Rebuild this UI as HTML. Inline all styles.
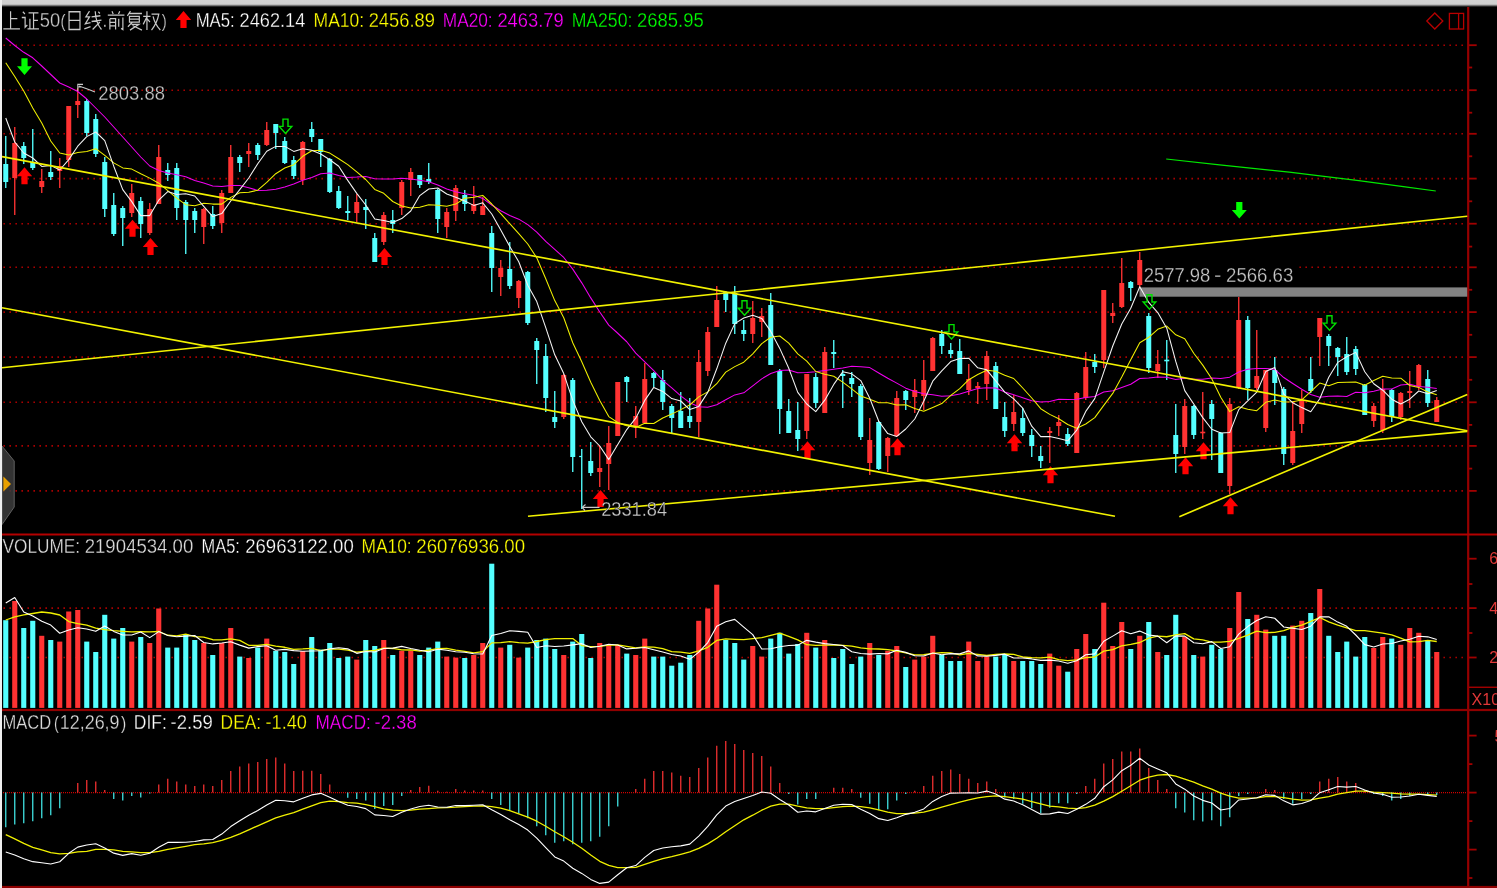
<!DOCTYPE html>
<html><head><meta charset="utf-8"><title>chart</title>
<style>
html,body{margin:0;padding:0;background:#000;overflow:hidden}
body{width:1497px;height:888px;position:relative;font-family:"Liberation Sans",sans-serif}
#top{position:absolute;left:0;top:0;width:1497px;height:7px;background:linear-gradient(#d2d2d2 0,#d0d0d0 4.2px,#6e6e6e 5.6px,#000 7px)}
#left{position:absolute;left:0;top:0;width:2px;height:888px;background:#efefef}
svg{position:absolute;left:0;top:0;will-change:transform}
</style></head><body>
<svg width="1497" height="888" viewBox="0 0 1497 888">
<g stroke="#a80000" stroke-width="1.6" stroke-dasharray="1.6 4.4" fill="none"><line x1="3.4" y1="45.2" x2="1464" y2="45.2"/><line x1="3.4" y1="90.2" x2="1464" y2="90.2"/><line x1="3.4" y1="133.8" x2="1464" y2="133.8"/><line x1="3.4" y1="178.6" x2="1464" y2="178.6"/><line x1="3.4" y1="223.7" x2="1464" y2="223.7"/><line x1="3.4" y1="267.3" x2="1464" y2="267.3"/><line x1="3.4" y1="312.1" x2="1464" y2="312.1"/><line x1="3.4" y1="357.1" x2="1464" y2="357.1"/><line x1="3.4" y1="402.3" x2="1464" y2="402.3"/><line x1="3.4" y1="445.9" x2="1464" y2="445.9"/><line x1="3.4" y1="490.9" x2="1464" y2="490.9"/><line x1="3.4" y1="608.1" x2="1464" y2="608.1"/><line x1="3.4" y1="657.5" x2="1464" y2="657.5"/></g>
<line x1="3" y1="792.6" x2="1466" y2="792.6" stroke="#d00000" stroke-width="1.1" stroke-dasharray="1 1"/>
<rect x="1467.1" y="7" width="2.2" height="881" fill="#960000"/>
<rect x="2" y="533.5" width="1495" height="2" fill="#b40000"/>
<rect x="2" y="708.9" width="1495" height="2.2" fill="#900000"/>
<rect x="2" y="885.9" width="1495" height="2.1" fill="#8e0000"/>
<rect x="1469" y="686.6" width="28" height="1.3" fill="#b20000"/>
<g stroke="#a00000" stroke-width="1.8"><line x1="1469" y1="45.2" x2="1476.7" y2="45.2"/><line x1="1469" y1="90.2" x2="1476.7" y2="90.2"/><line x1="1469" y1="133.8" x2="1476.7" y2="133.8"/><line x1="1469" y1="178.6" x2="1476.7" y2="178.6"/><line x1="1469" y1="223.7" x2="1476.7" y2="223.7"/><line x1="1469" y1="267.3" x2="1476.7" y2="267.3"/><line x1="1469" y1="312.1" x2="1476.7" y2="312.1"/><line x1="1469" y1="357.1" x2="1476.7" y2="357.1"/><line x1="1469" y1="402.3" x2="1476.7" y2="402.3"/><line x1="1469" y1="445.9" x2="1476.7" y2="445.9"/><line x1="1469" y1="490.9" x2="1476.7" y2="490.9"/><line x1="1469" y1="67.5" x2="1472.2" y2="67.5"/><line x1="1469" y1="112.7" x2="1472.2" y2="112.7"/><line x1="1469" y1="156.3" x2="1472.2" y2="156.3"/><line x1="1469" y1="201.3" x2="1472.2" y2="201.3"/><line x1="1469" y1="246.6" x2="1472.2" y2="246.6"/><line x1="1469" y1="289.8" x2="1472.2" y2="289.8"/><line x1="1469" y1="334.8" x2="1472.2" y2="334.8"/><line x1="1469" y1="379.8" x2="1472.2" y2="379.8"/><line x1="1469" y1="424.9" x2="1472.2" y2="424.9"/><line x1="1469" y1="468.6" x2="1472.2" y2="468.6"/><line x1="1469" y1="558.7" x2="1476.6" y2="558.7"/><line x1="1469" y1="608.1" x2="1476.6" y2="608.1"/><line x1="1469" y1="657.5" x2="1476.6" y2="657.5"/><line x1="1469" y1="584" x2="1472.4" y2="584"/><line x1="1469" y1="633" x2="1472.4" y2="633"/><line x1="1469" y1="735.6" x2="1476.6" y2="735.6"/><line x1="1469" y1="792.6" x2="1476.6" y2="792.6"/><line x1="1469" y1="849.6" x2="1476.6" y2="849.6"/><line x1="1469" y1="764.1" x2="1472.4" y2="764.1"/><line x1="1469" y1="821.1" x2="1472.4" y2="821.1"/><line x1="1469" y1="878" x2="1472.4" y2="878"/></g>
<rect x="1142" y="262" width="153" height="24" fill="#000"/>
<rect x="1139.5" y="287.4" width="327.7" height="9.3" fill="#828282"/>
<g stroke="#ff3232" stroke-width="1.35"><line x1="14.75" y1="127" x2="14.75" y2="215"/><line x1="41.75" y1="169" x2="41.75" y2="193"/><line x1="59.75" y1="158" x2="59.75" y2="188"/><line x1="68.75" y1="106" x2="68.75" y2="167"/><line x1="77.75" y1="88" x2="77.75" y2="118"/><line x1="131.75" y1="184" x2="131.75" y2="217"/><line x1="149.75" y1="203" x2="149.75" y2="235"/><line x1="158.75" y1="145" x2="158.75" y2="204"/><line x1="203.75" y1="208" x2="203.75" y2="244"/><line x1="221.75" y1="190" x2="221.75" y2="233"/><line x1="230.75" y1="145" x2="230.75" y2="193"/><line x1="248.75" y1="143" x2="248.75" y2="167"/><line x1="266.75" y1="122" x2="266.75" y2="146"/><line x1="302.75" y1="141" x2="302.75" y2="185"/><line x1="356.75" y1="194" x2="356.75" y2="222"/><line x1="383.75" y1="212" x2="383.75" y2="245"/><line x1="401.75" y1="180" x2="401.75" y2="215"/><line x1="410.75" y1="168" x2="410.75" y2="196"/><line x1="446.75" y1="208" x2="446.75" y2="238"/><line x1="455.75" y1="185" x2="455.75" y2="221"/><line x1="473.75" y1="186" x2="473.75" y2="214"/><line x1="482.75" y1="197" x2="482.75" y2="215"/><line x1="500.75" y1="260" x2="500.75" y2="296"/><line x1="518.75" y1="280" x2="518.75" y2="308"/><line x1="563.75" y1="374" x2="563.75" y2="419"/><line x1="599.75" y1="446" x2="599.75" y2="487"/><line x1="608.75" y1="426" x2="608.75" y2="490"/><line x1="617.75" y1="382" x2="617.75" y2="436"/><line x1="635.75" y1="406" x2="635.75" y2="438"/><line x1="644.75" y1="363" x2="644.75" y2="423"/><line x1="698.75" y1="350" x2="698.75" y2="437"/><line x1="707.75" y1="327" x2="707.75" y2="376"/><line x1="716.75" y1="286" x2="716.75" y2="327"/><line x1="752.75" y1="301" x2="752.75" y2="343"/><line x1="761.75" y1="308" x2="761.75" y2="337"/><line x1="806.75" y1="374" x2="806.75" y2="439"/><line x1="824.75" y1="347" x2="824.75" y2="413"/><line x1="869.75" y1="418" x2="869.75" y2="475"/><line x1="887.75" y1="437" x2="887.75" y2="472"/><line x1="896.75" y1="391" x2="896.75" y2="437"/><line x1="914.75" y1="379" x2="914.75" y2="413"/><line x1="923.75" y1="360" x2="923.75" y2="410"/><line x1="932.75" y1="337" x2="932.75" y2="371"/><line x1="968.75" y1="364" x2="968.75" y2="395"/><line x1="977.75" y1="382" x2="977.75" y2="404"/><line x1="986.75" y1="351" x2="986.75" y2="400"/><line x1="1013.75" y1="395" x2="1013.75" y2="431"/><line x1="1049.75" y1="427" x2="1049.75" y2="463"/><line x1="1058.75" y1="415" x2="1058.75" y2="436"/><line x1="1076.75" y1="392" x2="1076.75" y2="453"/><line x1="1085.75" y1="352" x2="1085.75" y2="400"/><line x1="1103.75" y1="290" x2="1103.75" y2="368"/><line x1="1112.75" y1="303" x2="1112.75" y2="323"/><line x1="1121.75" y1="258" x2="1121.75" y2="308"/><line x1="1139.75" y1="252" x2="1139.75" y2="287"/><line x1="1157.75" y1="350" x2="1157.75" y2="378"/><line x1="1184.75" y1="399" x2="1184.75" y2="454"/><line x1="1202.75" y1="392" x2="1202.75" y2="439"/><line x1="1229.75" y1="398" x2="1229.75" y2="494"/><line x1="1238.75" y1="297" x2="1238.75" y2="389"/><line x1="1256.75" y1="330" x2="1256.75" y2="390"/><line x1="1265.75" y1="370" x2="1265.75" y2="432"/><line x1="1292.75" y1="401" x2="1292.75" y2="465"/><line x1="1301.75" y1="390" x2="1301.75" y2="433"/><line x1="1319.75" y1="318" x2="1319.75" y2="366"/><line x1="1373.75" y1="403" x2="1373.75" y2="427"/><line x1="1382.75" y1="379" x2="1382.75" y2="433"/><line x1="1400.75" y1="392" x2="1400.75" y2="420"/><line x1="1409.75" y1="371" x2="1409.75" y2="408"/><line x1="1418.75" y1="364" x2="1418.75" y2="390"/><line x1="1436.75" y1="397" x2="1436.75" y2="422"/></g>
<g stroke="#54ffff" stroke-width="1.35"><line x1="5.75" y1="136" x2="5.75" y2="188"/><line x1="23.75" y1="142" x2="23.75" y2="164"/><line x1="32.75" y1="129" x2="32.75" y2="170"/><line x1="50.75" y1="151" x2="50.75" y2="180"/><line x1="86.75" y1="99" x2="86.75" y2="136"/><line x1="95.75" y1="114" x2="95.75" y2="157"/><line x1="104.75" y1="157" x2="104.75" y2="217"/><line x1="113.75" y1="193" x2="113.75" y2="236"/><line x1="122.75" y1="206" x2="122.75" y2="246"/><line x1="140.75" y1="197" x2="140.75" y2="238"/><line x1="167.75" y1="163" x2="167.75" y2="181"/><line x1="176.75" y1="163" x2="176.75" y2="220"/><line x1="185.75" y1="200" x2="185.75" y2="254"/><line x1="194.75" y1="208" x2="194.75" y2="233"/><line x1="212.75" y1="206" x2="212.75" y2="229"/><line x1="239.75" y1="155" x2="239.75" y2="172"/><line x1="257.75" y1="143" x2="257.75" y2="160"/><line x1="275.75" y1="124" x2="275.75" y2="149"/><line x1="284.75" y1="137" x2="284.75" y2="164"/><line x1="293.75" y1="156" x2="293.75" y2="179"/><line x1="311.75" y1="122" x2="311.75" y2="142"/><line x1="320.75" y1="139" x2="320.75" y2="167"/><line x1="329.75" y1="158" x2="329.75" y2="193"/><line x1="338.75" y1="186" x2="338.75" y2="209"/><line x1="347.75" y1="196" x2="347.75" y2="220"/><line x1="365.75" y1="199" x2="365.75" y2="229"/><line x1="374.75" y1="233" x2="374.75" y2="262"/><line x1="392.75" y1="210" x2="392.75" y2="233"/><line x1="419.75" y1="175" x2="419.75" y2="188"/><line x1="428.75" y1="163" x2="428.75" y2="184"/><line x1="437.75" y1="189" x2="437.75" y2="233"/><line x1="464.75" y1="190" x2="464.75" y2="211"/><line x1="491.75" y1="226" x2="491.75" y2="292"/><line x1="509.75" y1="242" x2="509.75" y2="289"/><line x1="527.75" y1="271" x2="527.75" y2="325"/><line x1="536.75" y1="338" x2="536.75" y2="384"/><line x1="545.75" y1="344" x2="545.75" y2="412"/><line x1="554.75" y1="391" x2="554.75" y2="428"/><line x1="572.75" y1="378" x2="572.75" y2="472"/><line x1="581.75" y1="449" x2="581.75" y2="509"/><line x1="590.75" y1="442" x2="590.75" y2="476"/><line x1="626.75" y1="376" x2="626.75" y2="402"/><line x1="653.75" y1="372" x2="653.75" y2="387"/><line x1="662.75" y1="370" x2="662.75" y2="410"/><line x1="671.75" y1="404" x2="671.75" y2="433"/><line x1="680.75" y1="392" x2="680.75" y2="428"/><line x1="689.75" y1="398" x2="689.75" y2="428"/><line x1="725.75" y1="291" x2="725.75" y2="312"/><line x1="734.75" y1="286" x2="734.75" y2="334"/><line x1="743.75" y1="320" x2="743.75" y2="341"/><line x1="770.75" y1="293" x2="770.75" y2="365"/><line x1="779.75" y1="369" x2="779.75" y2="434"/><line x1="788.75" y1="399" x2="788.75" y2="433"/><line x1="797.75" y1="402" x2="797.75" y2="451"/><line x1="815.75" y1="373" x2="815.75" y2="408"/><line x1="833.75" y1="340" x2="833.75" y2="368"/><line x1="842.75" y1="370" x2="842.75" y2="408"/><line x1="851.75" y1="372" x2="851.75" y2="397"/><line x1="860.75" y1="384" x2="860.75" y2="440"/><line x1="878.75" y1="421" x2="878.75" y2="470"/><line x1="905.75" y1="390" x2="905.75" y2="410"/><line x1="941.75" y1="330" x2="941.75" y2="354"/><line x1="950.75" y1="343" x2="950.75" y2="358"/><line x1="959.75" y1="339" x2="959.75" y2="374"/><line x1="995.75" y1="362" x2="995.75" y2="409"/><line x1="1004.75" y1="402" x2="1004.75" y2="437"/><line x1="1022.75" y1="408" x2="1022.75" y2="436"/><line x1="1031.75" y1="429" x2="1031.75" y2="457"/><line x1="1040.75" y1="446" x2="1040.75" y2="468"/><line x1="1067.75" y1="428" x2="1067.75" y2="446"/><line x1="1094.75" y1="354" x2="1094.75" y2="373"/><line x1="1130.75" y1="281" x2="1130.75" y2="301"/><line x1="1148.75" y1="313" x2="1148.75" y2="373"/><line x1="1166.75" y1="340" x2="1166.75" y2="380"/><line x1="1175.75" y1="404" x2="1175.75" y2="473"/><line x1="1193.75" y1="405" x2="1193.75" y2="439"/><line x1="1211.75" y1="400" x2="1211.75" y2="460"/><line x1="1220.75" y1="432" x2="1220.75" y2="473"/><line x1="1247.75" y1="316" x2="1247.75" y2="400"/><line x1="1274.75" y1="357" x2="1274.75" y2="405"/><line x1="1283.75" y1="387" x2="1283.75" y2="465"/><line x1="1310.75" y1="357" x2="1310.75" y2="393"/><line x1="1328.75" y1="334" x2="1328.75" y2="366"/><line x1="1337.75" y1="347" x2="1337.75" y2="376"/><line x1="1346.75" y1="337" x2="1346.75" y2="375"/><line x1="1355.75" y1="346" x2="1355.75" y2="375"/><line x1="1364.75" y1="384" x2="1364.75" y2="415"/><line x1="1391.75" y1="389" x2="1391.75" y2="422"/><line x1="1427.75" y1="370" x2="1427.75" y2="407"/></g>
<g fill="#ff3232"><rect x="12.25" y="143" width="5" height="35"/><rect x="39.25" y="181" width="5" height="6"/><rect x="57.25" y="166" width="5" height="5"/><rect x="66.25" y="106" width="5" height="54"/><rect x="75.25" y="101" width="5" height="4"/><rect x="129.25" y="193" width="5" height="20"/><rect x="147.25" y="209" width="5" height="24"/><rect x="156.25" y="157" width="5" height="47"/><rect x="201.25" y="209" width="5" height="18"/><rect x="219.25" y="193" width="5" height="30"/><rect x="228.25" y="157" width="5" height="36"/><rect x="246.25" y="151" width="5" height="3"/><rect x="264.25" y="130" width="5" height="15"/><rect x="300.25" y="142" width="5" height="38"/><rect x="354.25" y="202" width="5" height="11"/><rect x="381.25" y="215" width="5" height="27"/><rect x="399.25" y="182" width="5" height="26"/><rect x="408.25" y="172" width="5" height="8"/><rect x="444.25" y="212" width="5" height="15"/><rect x="453.25" y="188" width="5" height="23"/><rect x="471.25" y="204" width="5" height="7"/><rect x="480.25" y="206" width="5" height="9"/><rect x="498.25" y="268" width="5" height="9"/><rect x="516.25" y="281" width="5" height="17"/><rect x="561.25" y="375" width="5" height="42"/><rect x="597.25" y="468" width="5" height="4"/><rect x="606.25" y="443" width="5" height="21"/><rect x="615.25" y="382" width="5" height="54"/><rect x="633.25" y="416" width="5" height="11"/><rect x="642.25" y="379" width="5" height="44"/><rect x="696.25" y="362" width="5" height="60"/><rect x="705.25" y="332" width="5" height="39"/><rect x="714.25" y="300" width="5" height="27"/><rect x="750.25" y="318" width="5" height="16"/><rect x="759.25" y="316" width="5" height="6"/><rect x="804.25" y="374" width="5" height="57"/><rect x="822.25" y="352" width="5" height="61"/><rect x="867.25" y="440" width="5" height="23"/><rect x="885.25" y="438" width="5" height="18"/><rect x="894.25" y="398" width="5" height="38"/><rect x="912.25" y="390" width="5" height="7"/><rect x="921.25" y="380" width="5" height="16"/><rect x="930.25" y="338" width="5" height="33"/><rect x="966.25" y="379" width="5" height="11"/><rect x="975.25" y="386" width="5" height="2"/><rect x="984.25" y="356" width="5" height="28"/><rect x="1011.25" y="412" width="5" height="12"/><rect x="1047.25" y="431" width="5" height="2"/><rect x="1056.25" y="422" width="5" height="4"/><rect x="1074.25" y="393" width="5" height="60"/><rect x="1083.25" y="367" width="5" height="31"/><rect x="1101.25" y="290" width="5" height="70"/><rect x="1110.25" y="313" width="5" height="3"/><rect x="1119.25" y="283" width="5" height="24"/><rect x="1137.25" y="260" width="5" height="25"/><rect x="1155.25" y="364" width="5" height="7"/><rect x="1182.25" y="406" width="5" height="41"/><rect x="1200.25" y="431.7" width="5" height="1.6"/><rect x="1227.25" y="404" width="5" height="82"/><rect x="1236.25" y="320" width="5" height="68"/><rect x="1254.25" y="376" width="5" height="12"/><rect x="1263.25" y="370" width="5" height="58"/><rect x="1290.25" y="431" width="5" height="32"/><rect x="1299.25" y="400" width="5" height="24"/><rect x="1317.25" y="318" width="5" height="19"/><rect x="1371.25" y="406" width="5" height="15"/><rect x="1380.25" y="389" width="5" height="41"/><rect x="1398.25" y="393" width="5" height="24"/><rect x="1407.25" y="391" width="5" height="2"/><rect x="1416.25" y="365" width="5" height="22"/><rect x="1434.25" y="400" width="5" height="22"/></g>
<g fill="#54ffff"><rect x="3.25" y="164" width="5" height="18"/><rect x="21.25" y="146" width="5" height="12"/><rect x="30.25" y="162" width="5" height="6"/><rect x="48.25" y="172" width="5" height="5"/><rect x="84.25" y="101" width="5" height="32"/><rect x="93.25" y="119" width="5" height="35"/><rect x="102.25" y="162" width="5" height="47"/><rect x="111.25" y="205" width="5" height="29"/><rect x="120.25" y="208" width="5" height="10"/><rect x="138.25" y="201" width="5" height="23"/><rect x="165.25" y="170" width="5" height="5"/><rect x="174.25" y="168" width="5" height="40"/><rect x="183.25" y="202" width="5" height="18"/><rect x="192.25" y="211" width="5" height="9"/><rect x="210.25" y="214" width="5" height="12"/><rect x="237.25" y="157" width="5" height="6"/><rect x="255.25" y="145" width="5" height="10"/><rect x="273.25" y="124" width="5" height="9"/><rect x="282.25" y="141" width="5" height="22"/><rect x="291.25" y="160" width="5" height="16"/><rect x="309.25" y="129" width="5" height="8"/><rect x="318.25" y="139" width="5" height="13"/><rect x="327.25" y="159" width="5" height="33"/><rect x="336.25" y="191" width="5" height="17"/><rect x="345.25" y="211" width="5" height="2"/><rect x="363.25" y="207" width="5" height="3"/><rect x="372.25" y="238" width="5" height="24"/><rect x="390.25" y="220" width="5" height="4"/><rect x="417.25" y="175" width="5" height="10"/><rect x="426.25" y="179" width="5" height="3"/><rect x="435.25" y="190" width="5" height="29"/><rect x="462.25" y="195" width="5" height="9"/><rect x="489.25" y="233" width="5" height="35"/><rect x="507.25" y="269" width="5" height="17"/><rect x="525.25" y="272" width="5" height="51"/><rect x="534.25" y="341" width="5" height="9"/><rect x="543.25" y="356" width="5" height="42"/><rect x="552.25" y="417" width="5" height="5"/><rect x="570.25" y="380" width="5" height="77"/><rect x="579.15" y="455.9" width="2.6" height="1.2"/><rect x="588.25" y="461" width="5" height="12"/><rect x="624.25" y="377" width="5" height="5"/><rect x="651.25" y="373" width="5" height="5"/><rect x="660.25" y="380" width="5" height="22"/><rect x="669.25" y="406" width="5" height="12"/><rect x="678.25" y="411" width="5" height="17"/><rect x="687.25" y="416" width="5" height="6"/><rect x="723.25" y="292" width="5" height="8"/><rect x="732.25" y="293" width="5" height="31"/><rect x="741.25" y="330" width="5" height="4"/><rect x="768.25" y="305" width="5" height="60"/><rect x="777.25" y="371" width="5" height="38"/><rect x="786.25" y="411" width="5" height="22"/><rect x="795.25" y="430" width="5" height="9"/><rect x="813.25" y="377" width="5" height="26"/><rect x="831.25" y="352" width="5" height="2"/><rect x="840.25" y="374" width="5" height="2"/><rect x="849.25" y="378" width="5" height="6"/><rect x="858.25" y="386" width="5" height="51"/><rect x="876.25" y="422" width="5" height="47"/><rect x="903.25" y="391" width="5" height="9"/><rect x="939.25" y="334" width="5" height="12"/><rect x="948.25" y="350" width="5" height="4"/><rect x="957.25" y="351" width="5" height="23"/><rect x="993.25" y="366" width="5" height="43"/><rect x="1002.25" y="417" width="5" height="14"/><rect x="1020.25" y="418" width="5" height="15"/><rect x="1029.25" y="435" width="5" height="11"/><rect x="1038.25" y="456" width="5" height="5"/><rect x="1065.25" y="434" width="5" height="10"/><rect x="1092.25" y="362" width="5" height="5"/><rect x="1128.25" y="282" width="5" height="6"/><rect x="1146.25" y="316" width="5" height="52"/><rect x="1164.25" y="359.7" width="5" height="1.6"/><rect x="1173.25" y="435" width="5" height="19"/><rect x="1191.25" y="406" width="5" height="29"/><rect x="1209.25" y="404" width="5" height="15"/><rect x="1218.25" y="433" width="5" height="40"/><rect x="1245.25" y="320" width="5" height="68"/><rect x="1272.25" y="370" width="5" height="13"/><rect x="1281.25" y="389" width="5" height="65"/><rect x="1308.25" y="379" width="5" height="12"/><rect x="1326.25" y="336" width="5" height="10"/><rect x="1335.25" y="348" width="5" height="9"/><rect x="1344.25" y="354" width="5" height="18"/><rect x="1353.25" y="349" width="5" height="20"/><rect x="1362.25" y="385" width="5" height="30"/><rect x="1389.25" y="390" width="5" height="27"/><rect x="1425.25" y="379" width="5" height="24"/></g>
<polyline points="5.75,38 14.75,45.5 23.75,52.3 32.75,57.8 41.75,66 50.75,74.5 59.75,83 68.75,87 77.75,91.5 86.75,99 95.75,108 104.75,117 113.75,127 122.75,137 131.75,147 140.75,157 149.75,166 158.75,170.5 167.75,173 176.75,174.8 185.75,176.7 194.75,180.55 203.75,183.1 212.75,186 221.75,186.6 230.75,185.6 239.75,185.45 248.75,187.7 257.75,190.4 266.75,190.25 275.75,189.2 284.75,186.9 293.75,184 302.75,180.2 311.75,177.4 320.75,173.8 329.75,172.95 338.75,175.5 347.75,177.4 356.75,177.1 365.75,176.6 374.75,178.7 383.75,179 392.75,178.9 401.75,178.35 410.75,179.1 419.75,180.2 428.75,181.75 437.75,184.95 446.75,189.05 455.75,191.8 464.75,193.85 473.75,195.25 482.75,198.45 491.75,205 500.75,210.8 509.75,215.5 518.75,219.15 527.75,224.65 536.75,232.05 545.75,241.45 554.75,249.45 563.75,257.45 572.75,269.1 581.75,282.85 590.75,297.9 599.75,312.05 608.75,325.1 617.75,333.25 626.75,341.75 635.75,353.15 644.75,361.9 653.75,370.6 662.75,380.4 671.75,387.9 680.75,395.9 689.75,402.7 698.75,406.75 707.75,407.2 716.75,404.7 725.75,399.8 734.75,394.9 743.75,392.85 752.75,385.9 761.75,378.85 770.75,373.45 779.75,370.5 788.75,370 797.75,372.85 806.75,372.45 815.75,371.8 824.75,370.45 833.75,369.25 842.75,367.95 851.75,366.25 860.75,366.7 869.75,367.6 878.75,372.95 887.75,378.25 896.75,383.15 905.75,388.15 914.75,391.45 923.75,393.75 932.75,394.75 941.75,396.25 950.75,395.7 959.75,393.95 968.75,391.25 977.75,388.6 986.75,387.7 995.75,388 1004.75,391.95 1013.75,394.85 1022.75,397.7 1031.75,400.8 1040.75,402 1049.75,401.55 1058.75,399.2 1067.75,399.5 1076.75,399.25 1085.75,397.6 1094.75,396.45 1103.75,391.95 1112.75,390.7 1121.75,387.55 1130.75,384.25 1139.75,378.55 1148.75,378 1157.75,376.9 1166.75,377.15 1175.75,379.4 1184.75,378.15 1193.75,379.3 1202.75,379.25 1211.75,377.9 1220.75,378.5 1229.75,377.15 1238.75,372.05 1247.75,369.25 1256.75,368.4 1265.75,368.55 1274.75,369.35 1283.75,377.55 1292.75,383.45 1301.75,389.3 1310.75,394.45 1319.75,397.35 1328.75,396.25 1337.75,395.9 1346.75,396.45 1355.75,392.2 1364.75,392.65 1373.75,391.2 1382.75,389.05 1391.75,388.95 1400.75,384.95 1409.75,384.3 1418.75,386.55 1427.75,387.3 1436.75,388.5" fill="none" stroke="#f000f0" stroke-width="1.05" stroke-linejoin="round"/>
<polyline points="5.75,62.8 14.75,76.5 23.75,91 32.75,108 41.75,123 50.75,141 59.75,153 68.75,155 77.75,152.6 86.75,151.5 95.75,148.7 104.75,155.3 113.75,162.9 122.75,167.9 131.75,169.1 140.75,173.8 149.75,178.1 158.75,183.2 167.75,190.6 176.75,198.1 185.75,204.7 194.75,205.8 203.75,203.3 212.75,204.1 221.75,204.1 230.75,197.4 239.75,192.8 248.75,192.2 257.75,190.2 266.75,182.4 275.75,173.7 284.75,168 293.75,164.7 302.75,156.3 311.75,150.7 320.75,150.2 329.75,153.1 338.75,158.8 347.75,164.6 356.75,171.8 365.75,179.5 374.75,189.4 383.75,193.3 392.75,201.5 401.75,206 410.75,208 419.75,207.3 428.75,204.7 437.75,205.3 446.75,206.3 455.75,204.1 464.75,198.3 473.75,197.2 482.75,195.4 491.75,204 500.75,213.6 509.75,223.7 518.75,233.6 527.75,244 536.75,257.8 545.75,278.8 554.75,300.6 563.75,317.7 572.75,342.8 581.75,361.7 590.75,382.2 599.75,400.4 608.75,416.6 617.75,422.5 626.75,425.7 635.75,427.5 644.75,423.2 653.75,423.5 662.75,418 671.75,414.1 680.75,409.6 689.75,405 698.75,396.9 707.75,391.9 716.75,383.7 725.75,372.1 734.75,366.6 743.75,362.2 752.75,353.8 761.75,343.6 770.75,337.3 779.75,336 788.75,343.1 797.75,353.8 806.75,361.2 815.75,371.5 824.75,374.3 833.75,376.3 842.75,382.1 851.75,388.9 860.75,396.1 869.75,399.2 878.75,402.8 887.75,402.7 896.75,405.1 905.75,404.8 914.75,408.6 923.75,411.2 932.75,407.4 941.75,403.6 950.75,395.3 959.75,388.7 968.75,379.7 977.75,374.5 986.75,370.3 995.75,371.2 1004.75,375.3 1013.75,378.5 1022.75,388 1031.75,398 1040.75,408.7 1049.75,414.4 1058.75,418.7 1067.75,424.5 1076.75,428.2 1085.75,424 1094.75,417.6 1103.75,405.4 1112.75,393.4 1121.75,377.1 1130.75,359.8 1139.75,342.7 1148.75,337.3 1157.75,329.3 1166.75,326.1 1175.75,334.8 1184.75,338.7 1193.75,353.2 1202.75,365.1 1211.75,378.7 1220.75,397.2 1229.75,411.6 1238.75,406.8 1247.75,409.2 1256.75,410.7 1265.75,402.3 1274.75,400 1283.75,401.9 1292.75,401.8 1301.75,399.9 1310.75,391.7 1319.75,383.1 1328.75,385.7 1337.75,382.6 1346.75,382.2 1355.75,382.1 1364.75,385.3 1373.75,380.5 1382.75,376.3 1391.75,378 1400.75,378.2 1409.75,385.5 1418.75,387.4 1427.75,392 1436.75,394.8" fill="none" stroke="#f0f000" stroke-width="1.05" stroke-linejoin="round"/>
<polyline points="5.75,118 14.75,142 23.75,153 32.75,158 41.75,166.4 50.75,165.4 59.75,170 68.75,159.6 77.75,146.2 86.75,136.6 95.75,132 104.75,140.6 113.75,166.2 122.75,189.6 131.75,201.6 140.75,215.6 149.75,215.6 158.75,200.2 167.75,191.6 176.75,194.6 185.75,193.8 194.75,196 203.75,206.4 212.75,216.6 221.75,213.6 230.75,201 239.75,189.6 248.75,178 257.75,163.8 266.75,151.2 275.75,146.4 284.75,146.4 293.75,151.4 302.75,148.8 311.75,150.2 320.75,154 329.75,159.8 338.75,166.2 347.75,180.4 356.75,193.4 365.75,205 374.75,219 383.75,220.4 392.75,222.6 401.75,218.6 410.75,211 419.75,195.6 428.75,189 437.75,188 446.75,194 455.75,197.2 464.75,201 473.75,205.4 482.75,202.8 491.75,214 500.75,230 509.75,246.4 518.75,261.8 527.75,285.2 536.75,301.6 545.75,327.6 554.75,354.8 563.75,373.6 572.75,400.4 581.75,421.8 590.75,436.8 599.75,446 608.75,459.6 617.75,444.6 626.75,429.6 635.75,418.2 644.75,400.4 653.75,387.4 662.75,391.4 671.75,398.6 680.75,401 689.75,409.6 698.75,406.4 707.75,392.4 716.75,368.8 725.75,343.2 734.75,323.6 743.75,318 752.75,315.2 761.75,318.4 770.75,331.4 779.75,348.4 788.75,368.2 797.75,392.4 806.75,404 815.75,411.6 824.75,400.2 833.75,384.4 842.75,371.8 851.75,373.8 860.75,380.6 869.75,398.2 878.75,421.2 887.75,433.6 896.75,436.4 905.75,429 914.75,419 923.75,401.2 932.75,381.2 941.75,370.8 950.75,361.6 959.75,358.4 968.75,358.2 977.75,367.8 986.75,369.8 995.75,380.8 1004.75,392.2 1013.75,398.8 1022.75,408.2 1031.75,426.2 1040.75,436.6 1049.75,436.6 1058.75,438.6 1067.75,440.8 1076.75,430.2 1085.75,411.4 1094.75,398.6 1103.75,372.2 1112.75,346 1121.75,324 1130.75,308.2 1139.75,286.8 1148.75,302.4 1157.75,312.6 1166.75,328.2 1175.75,361.4 1184.75,390.6 1193.75,404 1202.75,417.6 1211.75,429.2 1220.75,433 1229.75,432.6 1238.75,409.6 1247.75,400.8 1256.75,392.2 1265.75,371.6 1274.75,367.4 1283.75,394.2 1292.75,402.8 1301.75,407.6 1310.75,411.8 1319.75,398.8 1328.75,377.2 1337.75,362.4 1346.75,356.8 1355.75,352.4 1364.75,371.8 1373.75,383.8 1382.75,390.2 1391.75,399.2 1400.75,404 1409.75,399.2 1418.75,391 1427.75,393.8 1436.75,390.4" fill="none" stroke="#f4f4f4" stroke-width="1.05" stroke-linejoin="round"/>
<polyline points="1166.2,159 1219.6,164.8 1289.2,172.2 1358.8,180.6 1405.2,186.8 1435.8,191" fill="none" stroke="#00e800" stroke-width="1.2"/>
<path d="M24.5 167.2 L32.2 176.2 L27.6 176.2 L27.6 184.2 L21.4 184.2 L21.4 176.2 L16.8 176.2 Z" fill="#ff0000"/>
<path d="M132.5 219.7 L140.2 228.7 L135.6 228.7 L135.6 236.7 L129.4 236.7 L129.4 228.7 L124.8 228.7 Z" fill="#ff0000"/>
<path d="M150.5 238.1 L158.2 247.1 L153.6 247.1 L153.6 255.1 L147.4 255.1 L147.4 247.1 L142.8 247.1 Z" fill="#ff0000"/>
<path d="M384.5 248.1 L392.2 257.1 L387.6 257.1 L387.6 265.1 L381.4 265.1 L381.4 257.1 L376.8 257.1 Z" fill="#ff0000"/>
<path d="M600.5 490 L608.2 499 L603.6 499 L603.6 507 L597.4 507 L597.4 499 L592.8 499 Z" fill="#ff0000"/>
<path d="M807.5 441.3 L815.2 450.3 L810.6 450.3 L810.6 458.3 L804.4 458.3 L804.4 450.3 L799.8 450.3 Z" fill="#ff0000"/>
<path d="M897.5 438.3 L905.2 447.3 L900.6 447.3 L900.6 455.3 L894.4 455.3 L894.4 447.3 L889.8 447.3 Z" fill="#ff0000"/>
<path d="M1014.5 434.2 L1022.2 443.2 L1017.6 443.2 L1017.6 451.2 L1011.4 451.2 L1011.4 443.2 L1006.8 443.2 Z" fill="#ff0000"/>
<path d="M1050.5 466.2 L1058.2 475.2 L1053.6 475.2 L1053.6 483.2 L1047.4 483.2 L1047.4 475.2 L1042.8 475.2 Z" fill="#ff0000"/>
<path d="M1185.5 457.2 L1193.2 466.2 L1188.6 466.2 L1188.6 474.2 L1182.4 474.2 L1182.4 466.2 L1177.8 466.2 Z" fill="#ff0000"/>
<path d="M1203.5 442.2 L1211.2 451.2 L1206.6 451.2 L1206.6 459.2 L1200.4 459.2 L1200.4 451.2 L1195.8 451.2 Z" fill="#ff0000"/>
<path d="M1230.5 497.3 L1238.2 506.3 L1233.6 506.3 L1233.6 514.3 L1227.4 514.3 L1227.4 506.3 L1222.8 506.3 Z" fill="#ff0000"/>
<path d="M183.5 11 L191.2 20 L186.6 20 L186.6 28 L180.4 28 L180.4 20 L175.8 20 Z" fill="#ff0000"/>
<path d="M24.5 74.9 L32 66.3 L27.6 66.3 L27.6 58.3 L21.4 58.3 L21.4 66.3 L17 66.3 Z" fill="#00ff00" stroke="none" stroke-width="0" stroke-linejoin="miter"/>
<path d="M1239.3 218.6 L1246.8 210 L1242.4 210 L1242.4 202 L1236.2 202 L1236.2 210 L1231.8 210 Z" fill="#00ff00" stroke="none" stroke-width="0" stroke-linejoin="miter"/>
<path d="M285.5 133.5 L291.8 126.4 L288 126.4 L288 119.1 L283 119.1 L283 126.4 L279.2 126.4 Z" fill="none" stroke="#00e000" stroke-width="1.4"/>
<path d="M744.5 315.2 L750.8 308.1 L747 308.1 L747 300.8 L742 300.8 L742 308.1 L738.2 308.1 Z" fill="none" stroke="#00e000" stroke-width="1.4"/>
<path d="M951.5 339 L957.8 331.9 L954 331.9 L954 324.6 L949 324.6 L949 331.9 L945.2 331.9 Z" fill="none" stroke="#00e000" stroke-width="1.4"/>
<path d="M1149.5 309.1 L1155.8 302 L1152 302 L1152 294.7 L1147 294.7 L1147 302 L1143.2 302 Z" fill="none" stroke="#00e000" stroke-width="1.4"/>
<path d="M1329.5 330.2 L1335.8 323.1 L1332 323.1 L1332 315.8 L1327 315.8 L1327 323.1 L1323.2 323.1 Z" fill="none" stroke="#00e000" stroke-width="1.4"/>
<g stroke="#f2f200" stroke-width="1.65" stroke-linecap="butt"><line x1="2" y1="156.6" x2="1467.3" y2="430.7"/><line x1="2" y1="307.8" x2="1115" y2="516.3"/><line x1="2" y1="367.7" x2="1467.3" y2="216.3"/><line x1="528" y1="516.3" x2="1467.3" y2="431.4"/><line x1="1179.3" y1="516.7" x2="1467.3" y2="394.5"/></g>
<g stroke="#c8c8c8" stroke-width="1.1" fill="none"><path d="M77.8 91 L77.8 84.4 L83 84.4 M78 87 L82 87 M79 86 L86 88.5 L90 90 L95 92"/><path d="M582 507.4 L599.5 507.4 M582 507.4 L585.5 504.5 M582 507.4 L585 510.5"/></g>
<g fill="#ff3232"><rect x="12.2" y="601" width="5.1" height="106.9"/><rect x="39.2" y="635.8" width="5.1" height="72.1"/><rect x="57.2" y="641.6" width="5.1" height="66.3"/><rect x="66.2" y="611.5" width="5.1" height="96.4"/><rect x="75.2" y="610" width="5.1" height="97.9"/><rect x="129.2" y="641.6" width="5.1" height="66.3"/><rect x="147.2" y="643" width="5.1" height="64.9"/><rect x="156.2" y="608.5" width="5.1" height="99.4"/><rect x="201.2" y="643" width="5.1" height="64.9"/><rect x="219.2" y="643" width="5.1" height="64.9"/><rect x="228.2" y="628" width="5.1" height="79.9"/><rect x="246.2" y="658" width="5.1" height="49.9"/><rect x="264.2" y="638.6" width="5.1" height="69.3"/><rect x="300.2" y="651" width="5.1" height="56.9"/><rect x="354.2" y="659.6" width="5.1" height="48.3"/><rect x="381.2" y="640" width="5.1" height="67.9"/><rect x="399.2" y="650.8" width="5.1" height="57.1"/><rect x="408.2" y="650.8" width="5.1" height="57.1"/><rect x="444.2" y="656.6" width="5.1" height="51.3"/><rect x="453.2" y="657.6" width="5.1" height="50.3"/><rect x="471.2" y="655" width="5.1" height="52.9"/><rect x="480.2" y="643" width="5.1" height="64.9"/><rect x="498.2" y="647.6" width="5.1" height="60.3"/><rect x="516.2" y="657.6" width="5.1" height="50.3"/><rect x="561.2" y="655" width="5.1" height="52.9"/><rect x="597.2" y="643" width="5.1" height="64.9"/><rect x="606.2" y="645" width="5.1" height="62.9"/><rect x="615.2" y="645" width="5.1" height="62.9"/><rect x="633.2" y="655" width="5.1" height="52.9"/><rect x="642.2" y="638.6" width="5.1" height="69.3"/><rect x="696.2" y="620.8" width="5.1" height="87.1"/><rect x="705.2" y="608.5" width="5.1" height="99.4"/><rect x="714.2" y="584.7" width="5.1" height="123.2"/><rect x="750.2" y="646" width="5.1" height="61.9"/><rect x="759.2" y="656.6" width="5.1" height="51.3"/><rect x="804.2" y="632.8" width="5.1" height="75.1"/><rect x="822.2" y="640" width="5.1" height="67.9"/><rect x="867.2" y="643" width="5.1" height="64.9"/><rect x="885.2" y="650.8" width="5.1" height="57.1"/><rect x="894.2" y="646" width="5.1" height="61.9"/><rect x="912.2" y="659.6" width="5.1" height="48.3"/><rect x="921.2" y="656.6" width="5.1" height="51.3"/><rect x="930.2" y="635.8" width="5.1" height="72.1"/><rect x="966.2" y="641.6" width="5.1" height="66.3"/><rect x="975.2" y="661" width="5.1" height="46.9"/><rect x="984.2" y="656.6" width="5.1" height="51.3"/><rect x="1011.2" y="661" width="5.1" height="46.9"/><rect x="1047.2" y="653.6" width="5.1" height="54.3"/><rect x="1056.2" y="665.7" width="5.1" height="42.2"/><rect x="1074.2" y="649" width="5.1" height="58.9"/><rect x="1083.2" y="634" width="5.1" height="73.9"/><rect x="1101.2" y="602.7" width="5.1" height="105.2"/><rect x="1110.2" y="646" width="5.1" height="61.9"/><rect x="1119.2" y="622" width="5.1" height="85.9"/><rect x="1137.2" y="635.8" width="5.1" height="72.1"/><rect x="1155.2" y="652" width="5.1" height="55.9"/><rect x="1182.2" y="637" width="5.1" height="70.9"/><rect x="1200.2" y="656.6" width="5.1" height="51.3"/><rect x="1227.2" y="628" width="5.1" height="79.9"/><rect x="1236.2" y="592" width="5.1" height="115.9"/><rect x="1254.2" y="614.8" width="5.1" height="93.1"/><rect x="1263.2" y="629.6" width="5.1" height="78.3"/><rect x="1290.2" y="625.6" width="5.1" height="82.3"/><rect x="1299.2" y="620.8" width="5.1" height="87.1"/><rect x="1317.2" y="589" width="5.1" height="118.9"/><rect x="1371.2" y="648" width="5.1" height="59.9"/><rect x="1380.2" y="637" width="5.1" height="70.9"/><rect x="1398.2" y="644.8" width="5.1" height="63.1"/><rect x="1407.2" y="628" width="5.1" height="79.9"/><rect x="1416.2" y="632.8" width="5.1" height="75.1"/><rect x="1434.2" y="652" width="5.1" height="55.9"/></g>
<g fill="#54ffff"><rect x="3.2" y="620.2" width="5.1" height="87.7"/><rect x="21.2" y="628" width="5.1" height="79.9"/><rect x="30.2" y="620.8" width="5.1" height="87.1"/><rect x="48.2" y="640" width="5.1" height="67.9"/><rect x="84.2" y="641.6" width="5.1" height="66.3"/><rect x="93.2" y="652" width="5.1" height="55.9"/><rect x="102.2" y="614.8" width="5.1" height="93.1"/><rect x="111.2" y="638.6" width="5.1" height="69.3"/><rect x="120.2" y="628" width="5.1" height="79.9"/><rect x="138.2" y="637" width="5.1" height="70.9"/><rect x="165.2" y="647.6" width="5.1" height="60.3"/><rect x="174.2" y="647.6" width="5.1" height="60.3"/><rect x="183.2" y="634" width="5.1" height="73.9"/><rect x="192.2" y="640" width="5.1" height="67.9"/><rect x="210.2" y="655" width="5.1" height="52.9"/><rect x="237.2" y="656.6" width="5.1" height="51.3"/><rect x="255.2" y="647.6" width="5.1" height="60.3"/><rect x="273.2" y="650.8" width="5.1" height="57.1"/><rect x="282.2" y="652" width="5.1" height="55.9"/><rect x="291.2" y="664" width="5.1" height="43.9"/><rect x="309.2" y="637" width="5.1" height="70.9"/><rect x="318.2" y="649.6" width="5.1" height="58.3"/><rect x="327.2" y="643" width="5.1" height="64.9"/><rect x="336.2" y="658" width="5.1" height="49.9"/><rect x="345.2" y="656.6" width="5.1" height="51.3"/><rect x="363.2" y="640" width="5.1" height="67.9"/><rect x="372.2" y="646" width="5.1" height="61.9"/><rect x="390.2" y="655" width="5.1" height="52.9"/><rect x="417.2" y="655" width="5.1" height="52.9"/><rect x="426.2" y="647.6" width="5.1" height="60.3"/><rect x="435.2" y="641.6" width="5.1" height="66.3"/><rect x="462.2" y="658" width="5.1" height="49.9"/><rect x="489.2" y="563.7" width="5.1" height="144.2"/><rect x="507.2" y="644.8" width="5.1" height="63.1"/><rect x="525.2" y="647.6" width="5.1" height="60.3"/><rect x="534.2" y="640" width="5.1" height="67.9"/><rect x="543.2" y="638.6" width="5.1" height="69.3"/><rect x="552.2" y="649" width="5.1" height="58.9"/><rect x="570.2" y="641.6" width="5.1" height="66.3"/><rect x="579.2" y="634" width="5.1" height="73.9"/><rect x="588.2" y="658" width="5.1" height="49.9"/><rect x="624.2" y="653.6" width="5.1" height="54.3"/><rect x="651.2" y="656.6" width="5.1" height="51.3"/><rect x="660.2" y="656.6" width="5.1" height="51.3"/><rect x="669.2" y="665.7" width="5.1" height="42.2"/><rect x="678.2" y="662.7" width="5.1" height="45.2"/><rect x="687.2" y="655" width="5.1" height="52.9"/><rect x="723.2" y="640" width="5.1" height="67.9"/><rect x="732.2" y="643" width="5.1" height="64.9"/><rect x="741.2" y="659.6" width="5.1" height="48.3"/><rect x="768.2" y="638.6" width="5.1" height="69.3"/><rect x="777.2" y="632.8" width="5.1" height="75.1"/><rect x="786.2" y="653.6" width="5.1" height="54.3"/><rect x="795.2" y="644" width="5.1" height="63.9"/><rect x="813.2" y="647.6" width="5.1" height="60.3"/><rect x="831.2" y="658" width="5.1" height="49.9"/><rect x="840.2" y="649" width="5.1" height="58.9"/><rect x="849.2" y="664" width="5.1" height="43.9"/><rect x="858.2" y="656.6" width="5.1" height="51.3"/><rect x="876.2" y="655" width="5.1" height="52.9"/><rect x="903.2" y="667" width="5.1" height="40.9"/><rect x="939.2" y="655" width="5.1" height="52.9"/><rect x="948.2" y="661" width="5.1" height="46.9"/><rect x="957.2" y="661" width="5.1" height="46.9"/><rect x="993.2" y="656.6" width="5.1" height="51.3"/><rect x="1002.2" y="655" width="5.1" height="52.9"/><rect x="1020.2" y="661" width="5.1" height="46.9"/><rect x="1029.2" y="661" width="5.1" height="46.9"/><rect x="1038.2" y="664" width="5.1" height="43.9"/><rect x="1065.2" y="671.7" width="5.1" height="36.2"/><rect x="1092.2" y="649" width="5.1" height="58.9"/><rect x="1128.2" y="649" width="5.1" height="58.9"/><rect x="1146.2" y="622" width="5.1" height="85.9"/><rect x="1164.2" y="655" width="5.1" height="52.9"/><rect x="1173.2" y="614.8" width="5.1" height="93.1"/><rect x="1191.2" y="655" width="5.1" height="52.9"/><rect x="1209.2" y="644.8" width="5.1" height="63.1"/><rect x="1218.2" y="649" width="5.1" height="58.9"/><rect x="1245.2" y="619" width="5.1" height="88.9"/><rect x="1272.2" y="635.8" width="5.1" height="72.1"/><rect x="1281.2" y="635.8" width="5.1" height="72.1"/><rect x="1308.2" y="613" width="5.1" height="94.9"/><rect x="1326.2" y="635.8" width="5.1" height="72.1"/><rect x="1335.2" y="652" width="5.1" height="55.9"/><rect x="1344.2" y="641.6" width="5.1" height="66.3"/><rect x="1353.2" y="656.6" width="5.1" height="51.3"/><rect x="1362.2" y="637" width="5.1" height="70.9"/><rect x="1389.2" y="638.6" width="5.1" height="69.3"/><rect x="1425.2" y="640" width="5.1" height="67.9"/></g>
<polyline points="5.75,620 14.75,616.8 23.75,614.8 32.75,613.5 41.75,612 50.75,613 59.75,615 68.75,621.6 77.75,623.6 86.75,625.05 95.75,628.23 104.75,629.61 113.75,630.67 122.75,631.39 131.75,631.97 140.75,631.67 149.75,631.81 158.75,631.51 167.75,635.27 176.75,635.87 185.75,634.07 194.75,636.59 203.75,637.03 212.75,639.73 221.75,639.87 230.75,638.97 239.75,640.33 248.75,645.28 257.75,645.28 266.75,644.38 275.75,646.06 284.75,647.26 293.75,649.36 302.75,648.96 311.75,648.36 320.75,650.52 329.75,649.16 338.75,649.16 347.75,650.06 356.75,652.16 365.75,651.08 374.75,650.48 383.75,648.08 392.75,648.48 401.75,649.86 410.75,649.98 419.75,651.18 428.75,650.14 437.75,648.64 446.75,648.34 455.75,650.1 464.75,651.3 473.75,652.8 482.75,651.6 491.75,642.89 500.75,642.57 509.75,641.55 518.75,642.55 527.75,643.15 536.75,641.49 545.75,639.59 554.75,638.69 563.75,638.69 572.75,638.55 581.75,645.58 590.75,646.62 599.75,646.44 608.75,645.18 617.75,644.92 626.75,646.28 635.75,647.92 644.75,646.88 653.75,647.04 662.75,648.54 671.75,651.71 680.75,652.18 689.75,653.38 698.75,650.96 707.75,647.31 716.75,640.42 725.75,638.92 734.75,639.36 743.75,639.66 752.75,638.6 761.75,637.69 770.75,635.28 779.75,633.06 788.75,636.34 797.75,639.89 806.75,644.7 815.75,645.46 824.75,645.16 833.75,645 842.75,645.3 851.75,646.04 860.75,647.84 869.75,648.86 878.75,649 887.75,649.68 896.75,651 905.75,652.94 914.75,654.9 923.75,654.76 932.75,653.44 941.75,652.54 950.75,652.98 959.75,654.78 968.75,653.44 977.75,654.46 986.75,655.52 995.75,654.48 1004.75,654.02 1013.75,654.46 1022.75,656.98 1031.75,657.58 1040.75,657.88 1049.75,657.14 1058.75,659.55 1067.75,660.62 1076.75,659.86 1085.75,657.6 1094.75,657 1103.75,651.17 1112.75,649.67 1121.75,645.77 1130.75,644.27 1139.75,642.49 1148.75,638.12 1157.75,636.15 1166.75,636.75 1175.75,634.83 1184.75,633.63 1193.75,638.86 1202.75,639.92 1211.75,642.2 1220.75,642.2 1229.75,641.42 1238.75,638.42 1247.75,635.12 1256.75,631.1 1265.75,632.58 1274.75,632.46 1283.75,630.54 1292.75,627.44 1301.75,625.04 1310.75,621.44 1319.75,617.54 1328.75,621.92 1337.75,625.22 1346.75,627.9 1355.75,630.6 1364.75,630.72 1373.75,631.94 1382.75,633.08 1391.75,634.86 1400.75,638.04 1409.75,641.94 1418.75,641.64 1427.75,640.44 1436.75,641.48" fill="none" stroke="#f0f000" stroke-width="1.3" stroke-linejoin="round"/>
<polyline points="5.75,603 14.75,597.5 23.75,612 32.75,616 41.75,621.16 50.75,625.12 59.75,633.24 68.75,629.94 77.75,627.78 86.75,628.94 95.75,631.34 104.75,625.98 113.75,631.4 122.75,635 131.75,635 140.75,632 149.75,637.64 158.75,631.62 167.75,635.54 176.75,636.74 185.75,636.14 194.75,635.54 203.75,642.44 212.75,643.92 221.75,643 230.75,641.8 239.75,645.12 248.75,648.12 257.75,646.64 266.75,645.76 275.75,650.32 284.75,649.4 293.75,650.6 302.75,651.28 311.75,650.96 320.75,650.72 329.75,648.92 338.75,647.72 347.75,648.84 356.75,653.36 365.75,651.44 374.75,652.04 383.75,648.44 392.75,648.12 401.75,646.36 410.75,648.52 419.75,650.32 428.75,651.84 437.75,649.16 446.75,650.32 455.75,651.68 464.75,652.28 473.75,653.76 482.75,654.04 491.75,635.46 500.75,633.46 509.75,630.82 518.75,631.34 527.75,632.26 536.75,647.52 545.75,645.72 554.75,646.56 563.75,646.04 572.75,644.84 581.75,643.64 590.75,647.52 599.75,646.32 608.75,644.32 617.75,645 626.75,648.92 635.75,648.32 644.75,647.44 653.75,649.76 662.75,652.08 671.75,654.5 680.75,656.04 689.75,659.32 698.75,652.16 707.75,642.54 716.75,626.34 725.75,621.8 734.75,619.4 743.75,627.16 752.75,634.66 761.75,649.04 770.75,648.76 779.75,646.72 788.75,645.52 797.75,645.12 806.75,640.36 815.75,642.16 824.75,643.6 833.75,644.48 842.75,645.48 851.75,651.72 860.75,653.52 869.75,654.12 878.75,653.52 887.75,653.88 896.75,650.28 905.75,652.36 914.75,655.68 923.75,656 932.75,653 941.75,654.8 950.75,653.6 959.75,653.88 968.75,650.88 977.75,655.92 986.75,656.24 995.75,655.36 1004.75,654.16 1013.75,658.04 1022.75,658.04 1031.75,658.92 1040.75,660.4 1049.75,660.12 1058.75,661.06 1067.75,663.2 1076.75,660.8 1085.75,654.8 1094.75,653.88 1103.75,641.28 1112.75,636.14 1121.75,630.74 1130.75,633.74 1139.75,631.1 1148.75,634.96 1157.75,636.16 1166.75,642.76 1175.75,635.92 1184.75,636.16 1193.75,642.76 1202.75,643.68 1211.75,641.64 1220.75,648.48 1229.75,646.68 1238.75,634.08 1247.75,626.56 1256.75,620.56 1265.75,616.68 1274.75,618.24 1283.75,627 1292.75,628.32 1301.75,629.52 1310.75,626.2 1319.75,616.84 1328.75,616.84 1337.75,622.12 1346.75,626.28 1355.75,635 1364.75,644.6 1373.75,647.04 1382.75,644.04 1391.75,643.44 1400.75,641.08 1409.75,639.28 1418.75,636.24 1427.75,636.84 1436.75,639.52" fill="none" stroke="#ffffff" stroke-width="1.1" stroke-linejoin="round"/>
<g stroke="#f03030" stroke-width="1.3"><line x1="77.75" y1="792.6" x2="77.75" y2="783"/><line x1="86.75" y1="792.6" x2="86.75" y2="780"/><line x1="95.75" y1="792.6" x2="95.75" y2="781.5"/><line x1="104.75" y1="792.6" x2="104.75" y2="790"/><line x1="158.75" y1="792.6" x2="158.75" y2="784.5"/><line x1="167.75" y1="792.6" x2="167.75" y2="778.7"/><line x1="176.75" y1="792.6" x2="176.75" y2="781.5"/><line x1="185.75" y1="792.6" x2="185.75" y2="784.5"/><line x1="194.75" y1="792.6" x2="194.75" y2="786"/><line x1="203.75" y1="792.6" x2="203.75" y2="784.5"/><line x1="212.75" y1="792.6" x2="212.75" y2="786"/><line x1="221.75" y1="792.6" x2="221.75" y2="780"/><line x1="230.75" y1="792.6" x2="230.75" y2="771"/><line x1="239.75" y1="792.6" x2="239.75" y2="766.5"/><line x1="248.75" y1="792.6" x2="248.75" y2="763.5"/><line x1="257.75" y1="792.6" x2="257.75" y2="762"/><line x1="266.75" y1="792.6" x2="266.75" y2="759"/><line x1="275.75" y1="792.6" x2="275.75" y2="757.5"/><line x1="284.75" y1="792.6" x2="284.75" y2="763.5"/><line x1="293.75" y1="792.6" x2="293.75" y2="771"/><line x1="302.75" y1="792.6" x2="302.75" y2="770.7"/><line x1="311.75" y1="792.6" x2="311.75" y2="770.7"/><line x1="320.75" y1="792.6" x2="320.75" y2="774"/><line x1="329.75" y1="792.6" x2="329.75" y2="784.5"/><line x1="410.75" y1="792.6" x2="410.75" y2="790"/><line x1="419.75" y1="792.6" x2="419.75" y2="787"/><line x1="428.75" y1="792.6" x2="428.75" y2="785.7"/><line x1="437.75" y1="792.6" x2="437.75" y2="790.8"/><line x1="446.75" y1="792.6" x2="446.75" y2="791.8"/><line x1="455.75" y1="792.6" x2="455.75" y2="789"/><line x1="464.75" y1="792.6" x2="464.75" y2="790.5"/><line x1="473.75" y1="792.6" x2="473.75" y2="790.5"/><line x1="482.75" y1="792.6" x2="482.75" y2="790.5"/><line x1="635.75" y1="792.6" x2="635.75" y2="789"/><line x1="644.75" y1="792.6" x2="644.75" y2="778.7"/><line x1="653.75" y1="792.6" x2="653.75" y2="771"/><line x1="662.75" y1="792.6" x2="662.75" y2="771"/><line x1="671.75" y1="792.6" x2="671.75" y2="772.5"/><line x1="680.75" y1="792.6" x2="680.75" y2="775.7"/><line x1="689.75" y1="792.6" x2="689.75" y2="777"/><line x1="698.75" y1="792.6" x2="698.75" y2="768"/><line x1="707.75" y1="792.6" x2="707.75" y2="757.5"/><line x1="716.75" y1="792.6" x2="716.75" y2="745.7"/><line x1="725.75" y1="792.6" x2="725.75" y2="741"/><line x1="734.75" y1="792.6" x2="734.75" y2="744"/><line x1="743.75" y1="792.6" x2="743.75" y2="750"/><line x1="752.75" y1="792.6" x2="752.75" y2="753"/><line x1="761.75" y1="792.6" x2="761.75" y2="756"/><line x1="770.75" y1="792.6" x2="770.75" y2="766.5"/><line x1="779.75" y1="792.6" x2="779.75" y2="783"/><line x1="833.75" y1="792.6" x2="833.75" y2="787.8"/><line x1="842.75" y1="792.6" x2="842.75" y2="787.8"/><line x1="851.75" y1="792.6" x2="851.75" y2="789"/><line x1="914.75" y1="792.6" x2="914.75" y2="790.8"/><line x1="923.75" y1="792.6" x2="923.75" y2="786"/><line x1="932.75" y1="792.6" x2="932.75" y2="775.7"/><line x1="941.75" y1="792.6" x2="941.75" y2="771"/><line x1="950.75" y1="792.6" x2="950.75" y2="769.5"/><line x1="959.75" y1="792.6" x2="959.75" y2="774"/><line x1="968.75" y1="792.6" x2="968.75" y2="778.7"/><line x1="977.75" y1="792.6" x2="977.75" y2="783"/><line x1="986.75" y1="792.6" x2="986.75" y2="781.5"/><line x1="995.75" y1="792.6" x2="995.75" y2="789"/><line x1="1085.75" y1="792.6" x2="1085.75" y2="786"/><line x1="1094.75" y1="792.6" x2="1094.75" y2="778.7"/><line x1="1103.75" y1="792.6" x2="1103.75" y2="763.5"/><line x1="1112.75" y1="792.6" x2="1112.75" y2="759"/><line x1="1121.75" y1="792.6" x2="1121.75" y2="751.5"/><line x1="1130.75" y1="792.6" x2="1130.75" y2="751.5"/><line x1="1139.75" y1="792.6" x2="1139.75" y2="748.5"/><line x1="1148.75" y1="792.6" x2="1148.75" y2="768"/><line x1="1157.75" y1="792.6" x2="1157.75" y2="780"/><line x1="1166.75" y1="792.6" x2="1166.75" y2="789"/><line x1="1265.75" y1="792.6" x2="1265.75" y2="789"/><line x1="1274.75" y1="792.6" x2="1274.75" y2="790"/><line x1="1319.75" y1="792.6" x2="1319.75" y2="781.5"/><line x1="1328.75" y1="792.6" x2="1328.75" y2="778.7"/><line x1="1337.75" y1="792.6" x2="1337.75" y2="777"/><line x1="1346.75" y1="792.6" x2="1346.75" y2="781.5"/><line x1="1355.75" y1="792.6" x2="1355.75" y2="783"/><line x1="1364.75" y1="792.6" x2="1364.75" y2="790"/></g>
<g stroke="#40e0e0" stroke-width="1.3"><line x1="5.75" y1="792.6" x2="5.75" y2="827.2"/><line x1="14.75" y1="792.6" x2="14.75" y2="824.6"/><line x1="23.75" y1="792.6" x2="23.75" y2="823.2"/><line x1="32.75" y1="792.6" x2="32.75" y2="821.2"/><line x1="41.75" y1="792.6" x2="41.75" y2="818.2"/><line x1="50.75" y1="792.6" x2="50.75" y2="815.2"/><line x1="59.75" y1="792.6" x2="59.75" y2="808.2"/><line x1="113.75" y1="792.6" x2="113.75" y2="799"/><line x1="122.75" y1="792.6" x2="122.75" y2="800.6"/><line x1="131.75" y1="792.6" x2="131.75" y2="796"/><line x1="140.75" y1="792.6" x2="140.75" y2="797.6"/><line x1="149.75" y1="792.6" x2="149.75" y2="793.5"/><line x1="347.75" y1="792.6" x2="347.75" y2="797.8"/><line x1="356.75" y1="792.6" x2="356.75" y2="799"/><line x1="365.75" y1="792.6" x2="365.75" y2="800.6"/><line x1="374.75" y1="792.6" x2="374.75" y2="809"/><line x1="383.75" y1="792.6" x2="383.75" y2="806"/><line x1="392.75" y1="792.6" x2="392.75" y2="805"/><line x1="401.75" y1="792.6" x2="401.75" y2="796"/><line x1="491.75" y1="792.6" x2="491.75" y2="799"/><line x1="500.75" y1="792.6" x2="500.75" y2="805"/><line x1="509.75" y1="792.6" x2="509.75" y2="810.8"/><line x1="518.75" y1="792.6" x2="518.75" y2="813.8"/><line x1="527.75" y1="792.6" x2="527.75" y2="818.2"/><line x1="536.75" y1="792.6" x2="536.75" y2="826.2"/><line x1="545.75" y1="792.6" x2="545.75" y2="835.2"/><line x1="554.75" y1="792.6" x2="554.75" y2="842.7"/><line x1="563.75" y1="792.6" x2="563.75" y2="841.3"/><line x1="572.75" y1="792.6" x2="572.75" y2="844.3"/><line x1="581.75" y1="792.6" x2="581.75" y2="842.7"/><line x1="590.75" y1="792.6" x2="590.75" y2="841.3"/><line x1="599.75" y1="792.6" x2="599.75" y2="836.7"/><line x1="608.75" y1="792.6" x2="608.75" y2="826.2"/><line x1="617.75" y1="792.6" x2="617.75" y2="806.6"/><line x1="788.75" y1="792.6" x2="788.75" y2="794"/><line x1="797.75" y1="792.6" x2="797.75" y2="804.6"/><line x1="806.75" y1="792.6" x2="806.75" y2="799"/><line x1="815.75" y1="792.6" x2="815.75" y2="799"/><line x1="860.75" y1="792.6" x2="860.75" y2="797.8"/><line x1="869.75" y1="792.6" x2="869.75" y2="803.8"/><line x1="878.75" y1="792.6" x2="878.75" y2="810.2"/><line x1="887.75" y1="792.6" x2="887.75" y2="809.2"/><line x1="896.75" y1="792.6" x2="896.75" y2="800.6"/><line x1="905.75" y1="792.6" x2="905.75" y2="794"/><line x1="1004.75" y1="792.6" x2="1004.75" y2="797.6"/><line x1="1013.75" y1="792.6" x2="1013.75" y2="799"/><line x1="1022.75" y1="792.6" x2="1022.75" y2="803.8"/><line x1="1031.75" y1="792.6" x2="1031.75" y2="808.2"/><line x1="1040.75" y1="792.6" x2="1040.75" y2="813.2"/><line x1="1049.75" y1="792.6" x2="1049.75" y2="807.8"/><line x1="1058.75" y1="792.6" x2="1058.75" y2="803.2"/><line x1="1067.75" y1="792.6" x2="1067.75" y2="803.2"/><line x1="1076.75" y1="792.6" x2="1076.75" y2="794"/><line x1="1175.75" y1="792.6" x2="1175.75" y2="808.2"/><line x1="1184.75" y1="792.6" x2="1184.75" y2="812.6"/><line x1="1193.75" y1="792.6" x2="1193.75" y2="820.2"/><line x1="1202.75" y1="792.6" x2="1202.75" y2="821.6"/><line x1="1211.75" y1="792.6" x2="1211.75" y2="820.2"/><line x1="1220.75" y1="792.6" x2="1220.75" y2="826.2"/><line x1="1229.75" y1="792.6" x2="1229.75" y2="817.2"/><line x1="1238.75" y1="792.6" x2="1238.75" y2="796"/><line x1="1247.75" y1="792.6" x2="1247.75" y2="794"/><line x1="1283.75" y1="792.6" x2="1283.75" y2="799"/><line x1="1292.75" y1="792.6" x2="1292.75" y2="803.8"/><line x1="1301.75" y1="792.6" x2="1301.75" y2="799"/><line x1="1310.75" y1="792.6" x2="1310.75" y2="794"/><line x1="1373.75" y1="792.6" x2="1373.75" y2="794"/><line x1="1382.75" y1="792.6" x2="1382.75" y2="796"/><line x1="1391.75" y1="792.6" x2="1391.75" y2="800.6"/><line x1="1400.75" y1="792.6" x2="1400.75" y2="799"/><line x1="1409.75" y1="792.6" x2="1409.75" y2="796"/><line x1="1427.75" y1="792.6" x2="1427.75" y2="794"/><line x1="1436.75" y1="792.6" x2="1436.75" y2="795"/></g>
<polyline points="5.75,834.6 14.75,838.9 23.75,843.3 32.75,847.3 41.75,849.9 50.75,852.7 59.75,853.9 68.75,853.3 77.75,851.9 86.75,851.3 95.75,849.3 104.75,849.3 113.75,849.9 122.75,851.3 131.75,851.9 140.75,852.7 149.75,852.7 158.75,851.3 167.75,849.3 176.75,847.9 185.75,846.3 194.75,844.7 203.75,843.9 212.75,842.7 221.75,840.3 230.75,837.3 239.75,833.8 248.75,829.8 257.75,825.8 266.75,821.8 275.75,817.8 284.75,815.2 293.75,812.6 302.75,809.2 311.75,805.8 320.75,802.6 329.75,801.2 338.75,801.6 347.75,802.6 356.75,803.2 365.75,804.6 374.75,806.6 383.75,808.8 392.75,810.2 401.75,810.6 410.75,810.2 419.75,809.2 428.75,808.6 437.75,807.8 446.75,807.6 455.75,807.2 464.75,806.6 473.75,806.2 482.75,805.8 491.75,806.6 500.75,808.2 509.75,810.6 518.75,813.8 527.75,817.2 536.75,821.2 545.75,826.2 554.75,831.8 563.75,836.7 572.75,842.3 581.75,848.3 590.75,855 599.75,861.3 608.75,865.3 617.75,867.7 626.75,867.7 635.75,867.3 644.75,864.3 653.75,861.3 662.75,858.7 671.75,856.7 680.75,854.3 689.75,851.9 698.75,848.3 707.75,843.9 716.75,838.3 725.75,831.8 734.75,825.8 743.75,819.8 752.75,815.2 761.75,810.2 770.75,806.2 779.75,804.2 788.75,804.2 797.75,806.2 806.75,807.8 815.75,808.6 824.75,808.6 833.75,807.6 842.75,806.6 851.75,806.2 860.75,806.6 869.75,807.8 878.75,809.8 887.75,812.2 896.75,813.6 905.75,813.6 914.75,813.2 923.75,812.2 932.75,809.8 941.75,807.2 950.75,804.6 959.75,802.2 968.75,799.8 977.75,797.8 986.75,796.6 995.75,795.8 1004.75,796.6 1013.75,797.8 1022.75,799.2 1031.75,801.6 1040.75,803.8 1049.75,806.2 1058.75,806.8 1067.75,808.2 1076.75,808.6 1085.75,807.6 1094.75,805.2 1103.75,801.2 1112.75,796.6 1121.75,791.2 1130.75,785.8 1139.75,780.2 1148.75,777.2 1157.75,775.2 1166.75,774.5 1175.75,776.1 1184.75,779.1 1193.75,782.1 1202.75,785.8 1211.75,789.2 1220.75,793.2 1229.75,796.2 1238.75,798.2 1247.75,798.2 1256.75,797.8 1265.75,796.6 1274.75,796.6 1283.75,797.6 1292.75,799.2 1301.75,800.2 1310.75,799.8 1319.75,798.2 1328.75,796.6 1337.75,794.2 1346.75,792.6 1355.75,791.2 1364.75,791.2 1373.75,792.2 1382.75,792.6 1391.75,793.2 1400.75,793.8 1409.75,794.2 1418.75,794.2 1427.75,794.6 1436.75,795.2" fill="none" stroke="#f0f000" stroke-width="1.3" stroke-linejoin="round"/>
<polyline points="5.75,851.95 14.75,854.95 23.75,858.65 32.75,861.65 41.75,862.75 50.75,864.05 59.75,861.75 68.75,853.3 77.75,847.15 86.75,845.05 95.75,843.8 104.75,848.05 113.75,853.15 122.75,855.35 131.75,853.65 140.75,855.25 149.75,853.2 158.75,847.3 167.75,842.4 176.75,842.4 185.75,842.3 194.75,841.45 203.75,839.9 212.75,839.45 221.75,834.05 230.75,826.55 239.75,820.8 248.75,815.3 257.75,810.55 266.75,805.05 275.75,800.3 284.75,800.7 293.75,801.85 302.75,798.3 311.75,794.9 320.75,793.35 329.75,797.2 338.75,801.6 347.75,805.25 356.75,806.45 365.75,808.65 374.75,814.85 383.75,815.55 392.75,816.45 401.75,812.35 410.75,808.95 419.75,806.45 428.75,805.2 437.75,806.95 446.75,807.25 455.75,805.45 464.75,805.6 473.75,805.2 482.75,804.8 491.75,809.85 500.75,814.45 509.75,819.75 518.75,824.45 527.75,830.05 536.75,838.05 545.75,847.55 554.75,856.9 563.75,861.1 572.75,868.2 581.75,873.4 590.75,879.4 599.75,883.4 608.75,882.15 617.75,874.75 626.75,867.7 635.75,865.55 644.75,857.4 653.75,850.55 662.75,847.95 671.75,846.7 680.75,845.9 689.75,844.15 698.75,836.05 707.75,826.4 716.75,814.9 725.75,806.05 734.75,801.55 743.75,798.55 752.75,795.45 761.75,791.95 770.75,793.2 779.75,799.45 788.75,804.95 797.75,812.25 806.75,811.05 815.75,811.85 824.75,808.6 833.75,805.25 842.75,804.25 851.75,804.45 860.75,809.25 869.75,813.45 878.75,818.65 887.75,820.55 896.75,817.65 905.75,814.35 914.75,812.35 923.75,808.95 932.75,801.4 941.75,796.45 950.75,793.1 959.75,792.95 968.75,792.9 977.75,793.05 986.75,791.1 995.75,794.05 1004.75,799.15 1013.75,801.05 1022.75,804.85 1031.75,809.45 1040.75,814.15 1049.75,813.85 1058.75,812.15 1067.75,813.55 1076.75,809.35 1085.75,804.35 1094.75,798.3 1103.75,786.7 1112.75,779.85 1121.75,770.7 1130.75,765.3 1139.75,758.2 1148.75,764.95 1157.75,768.95 1166.75,772.75 1175.75,783.95 1184.75,789.15 1193.75,795.95 1202.75,800.35 1211.75,803.05 1220.75,810.05 1229.75,808.55 1238.75,799.95 1247.75,798.95 1256.75,797.8 1265.75,794.85 1274.75,795.35 1283.75,800.85 1292.75,804.85 1301.75,803.45 1310.75,800.55 1319.75,792.7 1328.75,789.7 1337.75,786.45 1346.75,787.1 1355.75,786.45 1364.75,789.95 1373.75,792.95 1382.75,794.35 1391.75,797.25 1400.75,797.05 1409.75,795.95 1418.75,794.2 1427.75,795.35 1436.75,796.45" fill="none" stroke="#ffffff" stroke-width="1.1" stroke-linejoin="round"/>
<path d="M2 446 L14.2 461 L14.2 507 L2 524.6 Z" fill="#3c3c3c" fill-opacity="0.85" stroke="#606060" stroke-width="1"/>
<path d="M3.4 476.6 L11 484 L3.4 491.5 Z" fill="#e8a000"/>
<g stroke="#b80000" stroke-width="1.3" fill="none"><path d="M1434.8 13 L1442.8 21 L1434.8 29 L1426.8 21 Z"/><rect x="1449.4" y="13.4" width="14.2" height="15.6"/><line x1="1458.6" y1="13.4" x2="1458.6" y2="29"/></g>
<text transform="translate(39.76 26.8) scale(1.0449 1.107)" x="0" y="0" font-family="Liberation Sans, sans-serif" font-size="17.6" fill="#c8c8c8" stroke="#000" stroke-width="0.25" style="font-kerning:none" xml:space="preserve">50</text>
<text transform="translate(60.46 26.8) scale(0.8572 1.0)" x="0" y="0" font-family="Liberation Sans, sans-serif" font-size="17.6" fill="#c8c8c8" stroke="#000" stroke-width="0.25" style="font-kerning:none" xml:space="preserve">(</text>
<text transform="translate(102.27 26.8) scale(1.0741 1.107)" x="0" y="0" font-family="Liberation Sans, sans-serif" font-size="17.6" fill="#c8c8c8" stroke="#000" stroke-width="0.25" style="font-kerning:none" xml:space="preserve">.</text>
<text transform="translate(161.71 26.8) scale(0.8572 1.0)" x="0" y="0" font-family="Liberation Sans, sans-serif" font-size="17.6" fill="#c8c8c8" stroke="#000" stroke-width="0.25" style="font-kerning:none" xml:space="preserve">)</text>
<text transform="translate(195.63 26.8) scale(0.9519 1.107)" x="0" y="0" font-family="Liberation Sans, sans-serif" font-size="17.6" fill="#ffffff" stroke="#000" stroke-width="0.25" style="font-kerning:none" xml:space="preserve">MA5:</text>
<text transform="translate(239.59 26.8) scale(1.0335 1.107)" x="0" y="0" font-family="Liberation Sans, sans-serif" font-size="17.6" fill="#ffffff" stroke="#000" stroke-width="0.25" style="font-kerning:none" xml:space="preserve">2462.14</text>
<text transform="translate(313.57 26.8) scale(0.9934 1.107)" x="0" y="0" font-family="Liberation Sans, sans-serif" font-size="17.6" fill="#ffff00" stroke="#000" stroke-width="0.25" style="font-kerning:none" xml:space="preserve">MA10:</text>
<text transform="translate(368.68 26.8) scale(1.0404 1.107)" x="0" y="0" font-family="Liberation Sans, sans-serif" font-size="17.6" fill="#ffff00" stroke="#000" stroke-width="0.25" style="font-kerning:none" xml:space="preserve">2456.89</text>
<text transform="translate(442.78 26.8) scale(0.9809 1.107)" x="0" y="0" font-family="Liberation Sans, sans-serif" font-size="17.6" fill="#ff00ff" stroke="#000" stroke-width="0.25" style="font-kerning:none" xml:space="preserve">MA20:</text>
<text transform="translate(497.38 26.8) scale(1.0420 1.107)" x="0" y="0" font-family="Liberation Sans, sans-serif" font-size="17.6" fill="#ff00ff" stroke="#000" stroke-width="0.25" style="font-kerning:none" xml:space="preserve">2463.79</text>
<text transform="translate(571.65 26.8) scale(1.0017 1.107)" x="0" y="0" font-family="Liberation Sans, sans-serif" font-size="17.6" fill="#00ff00" stroke="#000" stroke-width="0.25" style="font-kerning:none" xml:space="preserve">MA250:</text>
<text transform="translate(637.07 26.8) scale(1.0469 1.107)" x="0" y="0" font-family="Liberation Sans, sans-serif" font-size="17.6" fill="#00ff00" stroke="#000" stroke-width="0.25" style="font-kerning:none" xml:space="preserve">2685.95</text>
<text transform="translate(98.37 100) scale(1.0240 1.08)" x="0" y="0" font-family="Liberation Sans, sans-serif" font-size="18" fill="#c8c8c8" stroke="#000" stroke-width="0.25" style="font-kerning:none" xml:space="preserve">2803.88</text>
<text transform="translate(601.18 515.9) scale(1.0136 1.08)" x="0" y="0" font-family="Liberation Sans, sans-serif" font-size="18" fill="#c8c8c8" stroke="#000" stroke-width="0.25" style="font-kerning:none" xml:space="preserve">2331.84</text>
<text transform="translate(1143.67 281.5) scale(1.0256 1.08)" x="0" y="0" font-family="Liberation Sans, sans-serif" font-size="18" fill="#c8c8c8" stroke="#000" stroke-width="0.25" style="font-kerning:none" xml:space="preserve">2577.98</text>
<text transform="translate(1214.02 281.5) scale(1.2288 1.08)" x="0" y="0" font-family="Liberation Sans, sans-serif" font-size="18" fill="#c8c8c8" stroke="#000" stroke-width="0.25" style="font-kerning:none" xml:space="preserve">-</text>
<text transform="translate(1226.06 281.5) scale(1.0336 1.08)" x="0" y="0" font-family="Liberation Sans, sans-serif" font-size="18" fill="#c8c8c8" stroke="#000" stroke-width="0.25" style="font-kerning:none" xml:space="preserve">2566.63</text>
<text transform="translate(2.52 553.1) scale(0.9789 1.107)" x="0" y="0" font-family="Liberation Sans, sans-serif" font-size="17.6" fill="#dcdcdc" stroke="#000" stroke-width="0.25" style="font-kerning:none" xml:space="preserve">VOLUME:</text>
<text transform="translate(84.66 553.1) scale(1.0573 1.107)" x="0" y="0" font-family="Liberation Sans, sans-serif" font-size="17.6" fill="#dcdcdc" stroke="#000" stroke-width="0.25" style="font-kerning:none" xml:space="preserve">21904534.00</text>
<text transform="translate(201.56 553.1) scale(0.9309 1.107)" x="0" y="0" font-family="Liberation Sans, sans-serif" font-size="17.6" fill="#ffffff" stroke="#000" stroke-width="0.25" style="font-kerning:none" xml:space="preserve">MA5:</text>
<text transform="translate(245.16 553.1) scale(1.0573 1.107)" x="0" y="0" font-family="Liberation Sans, sans-serif" font-size="17.6" fill="#ffffff" stroke="#000" stroke-width="0.25" style="font-kerning:none" xml:space="preserve">26963122.00</text>
<text transform="translate(361.58 553.1) scale(0.9850 1.107)" x="0" y="0" font-family="Liberation Sans, sans-serif" font-size="17.6" fill="#ffff00" stroke="#000" stroke-width="0.25" style="font-kerning:none" xml:space="preserve">MA10:</text>
<text transform="translate(416.36 553.1) scale(1.0573 1.107)" x="0" y="0" font-family="Liberation Sans, sans-serif" font-size="17.6" fill="#ffff00" stroke="#000" stroke-width="0.25" style="font-kerning:none" xml:space="preserve">26076936.00</text>
<text transform="translate(2.44 729.1) scale(0.9408 1.107)" x="0" y="0" font-family="Liberation Sans, sans-serif" font-size="17.6" fill="#dcdcdc" stroke="#000" stroke-width="0.25" style="font-kerning:none" xml:space="preserve">MACD</text>
<text transform="translate(54.01 729.1) scale(0.8143 1.0)" x="0" y="0" font-family="Liberation Sans, sans-serif" font-size="17.6" fill="#dcdcdc" stroke="#000" stroke-width="0.25" style="font-kerning:none" xml:space="preserve">(</text>
<text transform="translate(59.84 729.1) scale(1.0169 1.107)" x="0" y="0" font-family="Liberation Sans, sans-serif" font-size="17.6" fill="#dcdcdc" stroke="#000" stroke-width="0.25" style="font-kerning:none" xml:space="preserve">12,26,9</text>
<text transform="translate(121.11 729.1) scale(0.9001 1.0)" x="0" y="0" font-family="Liberation Sans, sans-serif" font-size="17.6" fill="#dcdcdc" stroke="#000" stroke-width="0.25" style="font-kerning:none" xml:space="preserve">)</text>
<text transform="translate(133.87 729.1) scale(0.9937 1.107)" x="0" y="0" font-family="Liberation Sans, sans-serif" font-size="17.6" fill="#ffffff" stroke="#000" stroke-width="0.25" style="font-kerning:none" xml:space="preserve">DIF:</text>
<text transform="translate(170.48 729.1) scale(1.0545 1.107)" x="0" y="0" font-family="Liberation Sans, sans-serif" font-size="17.6" fill="#ffffff" stroke="#000" stroke-width="0.25" style="font-kerning:none" xml:space="preserve">-2.59</text>
<text transform="translate(220.57 729.1) scale(0.9888 1.107)" x="0" y="0" font-family="Liberation Sans, sans-serif" font-size="17.6" fill="#ffff00" stroke="#000" stroke-width="0.25" style="font-kerning:none" xml:space="preserve">DEA:</text>
<text transform="translate(265.59 729.1) scale(1.0299 1.107)" x="0" y="0" font-family="Liberation Sans, sans-serif" font-size="17.6" fill="#ffff00" stroke="#000" stroke-width="0.25" style="font-kerning:none" xml:space="preserve">-1.40</text>
<text transform="translate(315.59 729.1) scale(0.9747 1.107)" x="0" y="0" font-family="Liberation Sans, sans-serif" font-size="17.6" fill="#ff00ff" stroke="#000" stroke-width="0.25" style="font-kerning:none" xml:space="preserve">MACD:</text>
<text transform="translate(374.48 729.1) scale(1.0527 1.107)" x="0" y="0" font-family="Liberation Sans, sans-serif" font-size="17.6" fill="#ff00ff" stroke="#000" stroke-width="0.25" style="font-kerning:none" xml:space="preserve">-2.38</text>
<text x="1489.3" y="564.4" font-family="Liberation Sans, sans-serif" font-size="16" fill="#e03838">60</text>
<text x="1489.3" y="613.8" font-family="Liberation Sans, sans-serif" font-size="16" fill="#e03838">40</text>
<text x="1489.3" y="663.2" font-family="Liberation Sans, sans-serif" font-size="16" fill="#e03838">20</text>
<text x="1471.6" y="704.6" font-family="Liberation Sans, sans-serif" font-size="16" fill="#e03838">X10</text>
<text x="1494.4" y="742.2" font-family="Liberation Sans, sans-serif" font-size="16" fill="#e03838">5</text>
<g stroke="#c8c8c8" stroke-width="1.15" fill="none" stroke-linecap="butt"><path transform="translate(3.3 11.2) scale(1.04 1.1440000000000001)" d="M7 0 V15 M7 6.5 H13.5 M0 15.5 H16"/><path transform="translate(21.8 11.2) scale(1.04 1.1440000000000001)" d="M1 0.5 L3 2.5 M0 5.5 H3.2 V14 L5.3 12 M6.5 1.5 H16 M11.3 1.5 V15.5 M11.3 8 H15.5 M7.8 6.5 V15.5 M5.5 15.5 H16.5"/><path transform="translate(67.5 11.2) scale(1.04 1.1440000000000001)" d="M1.5 0.5 H12 V16 H1.5 Z M1.5 8 H12"/><path transform="translate(84.3 11.2) scale(1.04 1.1440000000000001)" d="M5 0 L1.5 5 H5 L1 11 L6 10 M0 15.5 L6 13.5 M7 5 L15.5 4 M7 9 L16.5 7.8 M10.5 0 Q11 10 16.5 16 M15 9.5 L8 16 M13.5 0.5 L15 2"/><path transform="translate(107.8 11.2) scale(1.04 1.1440000000000001)" d="M4 0 L5.2 2.5 M11.5 0 L10.3 2.5 M0 3.5 H16 M2 6.5 H7.5 V16 M2 6.5 V16 M2 9.7 H7.5 M2 12.8 H7.5 M10.5 6.5 V13.5 M14.5 5.5 V16 L12.8 15"/><path transform="translate(125.8 11.2) scale(1.04 1.1440000000000001)" d="M4.5 0 L1.5 4 M3.5 2 H15.5 M3.5 4.5 H13 V9.5 H3.5 Z M3.5 7 H13 M6.5 9.5 L2 13.5 M5.5 11.5 H12.5 L4 16.5 M6.5 12.5 L15.5 16.5"/><path transform="translate(143.2 11.2) scale(1.04 1.1440000000000001)" d="M0 4.5 H7 M3.6 0 V16.5 M3.6 5 L0 11.5 M3.6 6.5 L6.5 9.5 M8 2.5 H15 Q13.5 10 8 16.5 M9.5 4.5 Q11 11 16.5 16.5"/></g>
</svg>
<div id="top"></div><div id="left"></div>
</body></html>
